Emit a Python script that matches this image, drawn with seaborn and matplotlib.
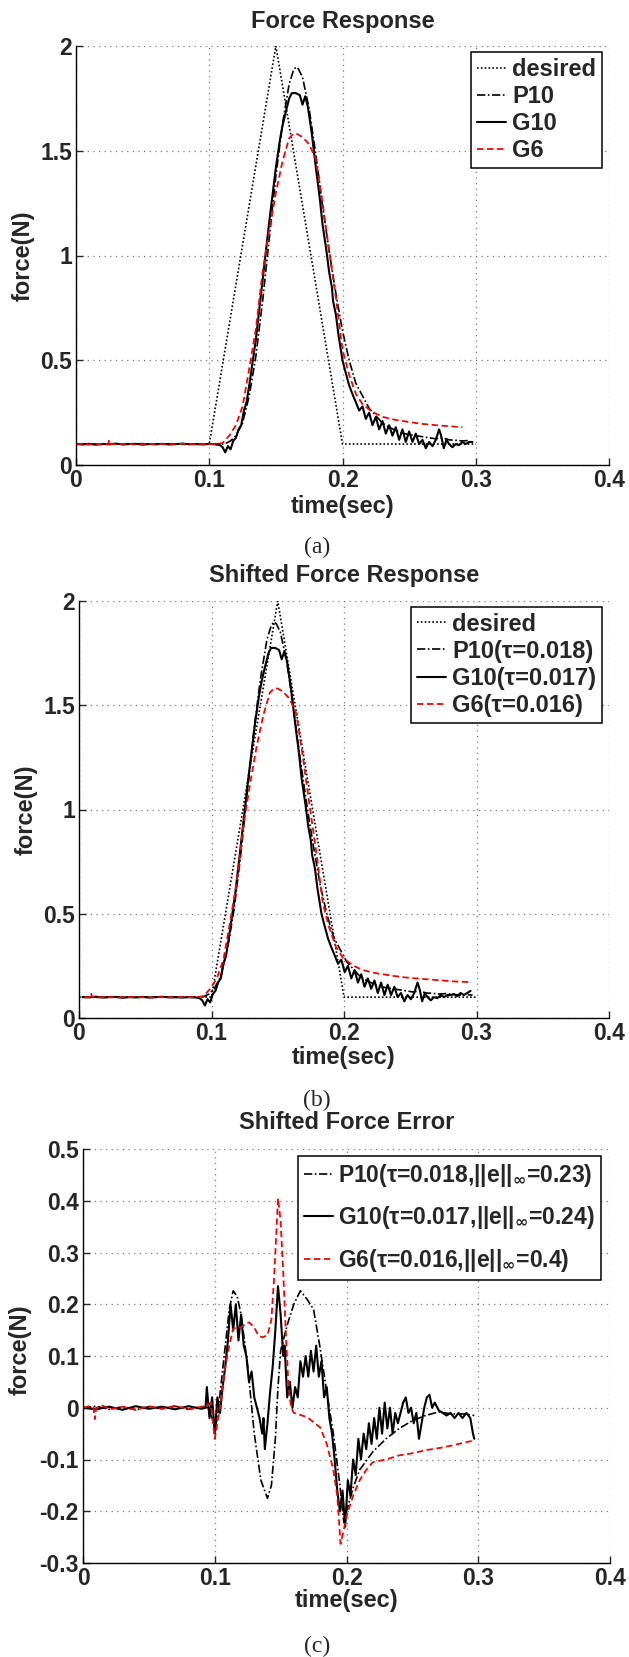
import numpy as np
import pandas as pd
import matplotlib
matplotlib.use("Agg")
import matplotlib.pyplot as plt
import seaborn as sns

# ---------------- data ----------------
desired_t = [0.0, 0.1, 0.15, 0.2, 0.3]
desired_v = [0.1, 0.1, 2.0, 0.1, 0.1]

p10_t = [0, 0.01, 0.02, 0.03, 0.04, 0.05, 0.06, 0.07, 0.08, 0.09, 0.1, 0.105, 0.11, 0.113,
         0.116, 0.12, 0.125, 0.13, 0.135, 0.14, 0.145, 0.15, 0.155, 0.16, 0.163, 0.165, 0.167,
         0.17, 0.175, 0.18, 0.185, 0.19, 0.195, 0.2, 0.205, 0.21, 0.215, 0.22, 0.225, 0.23,
         0.235, 0.24, 0.245, 0.25, 0.255, 0.26, 0.265, 0.27, 0.275, 0.28, 0.285, 0.29, 0.295,
         0.3, 0.305, 0.31, 0.315]
p10_v = [0.1, 0.098, 0.101, 0.099, 0.1, 0.102, 0.099, 0.1, 0.101, 0.099, 0.1, 0.098, 0.1, 0.105,
         0.115, 0.14, 0.2, 0.33, 0.52, 0.78, 1.08, 1.38, 1.63, 1.82, 1.88, 1.9, 1.89,
         1.85, 1.7, 1.48, 1.24, 1.02, 0.82, 0.64, 0.5, 0.39, 0.33, 0.27, 0.235, 0.2,
         0.18, 0.165, 0.152, 0.145, 0.14, 0.135, 0.13, 0.125, 0.13, 0.12, 0.118, 0.115, 0.117,
         0.113, 0.11, 0.112, 0.11]

g10_t = [0, 0.005, 0.01, 0.015, 0.02, 0.025, 0.03, 0.035, 0.04, 0.045, 0.05, 0.055, 0.06, 0.065,
         0.07, 0.075, 0.08, 0.085, 0.09, 0.095, 0.1, 0.104, 0.108, 0.11, 0.112, 0.114, 0.116,
         0.118, 0.12, 0.122, 0.124, 0.126, 0.128, 0.13, 0.135, 0.14, 0.145, 0.15, 0.153, 0.155,
         0.158, 0.16, 0.162, 0.165, 0.168, 0.17, 0.172, 0.174, 0.177, 0.18, 0.183, 0.185, 0.188,
         0.19, 0.192, 0.193, 0.195, 0.197, 0.2, 0.202, 0.205, 0.208, 0.21, 0.2125, 0.215, 0.2175,
         0.22, 0.2225, 0.225, 0.2275, 0.23, 0.2325, 0.235, 0.2375, 0.24, 0.2425, 0.245, 0.2475,
         0.25, 0.2525, 0.255, 0.2575, 0.26, 0.2625, 0.265, 0.2675, 0.27, 0.2725, 0.274, 0.276,
         0.278, 0.28, 0.2825, 0.285, 0.2875, 0.29, 0.2925, 0.295, 0.2975, 0.3, 0.3025, 0.305,
         0.3075, 0.31, 0.3125, 0.315]
g10_v = [0.1, 0.098, 0.101, 0.097, 0.1, 0.099, 0.102, 0.098, 0.1, 0.101, 0.097, 0.1, 0.099, 0.101,
         0.098, 0.1, 0.102, 0.099, 0.1, 0.098, 0.1, 0.1, 0.095, 0.085, 0.06, 0.09, 0.075,
         0.115, 0.13, 0.17, 0.19, 0.26, 0.3, 0.38, 0.6, 0.88, 1.16, 1.42, 1.55, 1.62,
         1.7, 1.75, 1.775, 1.775, 1.765, 1.72, 1.76, 1.71, 1.58, 1.42, 1.27, 1.15, 1.02,
         0.92, 0.85, 0.78, 0.72, 0.62, 0.5, 0.45, 0.38, 0.33, 0.3, 0.26, 0.28, 0.22,
         0.25, 0.19, 0.23, 0.17, 0.21, 0.15, 0.19, 0.14, 0.18, 0.12, 0.17, 0.11,
         0.16, 0.11, 0.15, 0.10, 0.12, 0.08, 0.11, 0.09, 0.12, 0.17, 0.14, 0.08,
         0.12, 0.10, 0.085, 0.10, 0.095, 0.11, 0.10, 0.11, 0.11, 0.115, 0.105, 0.12,
         0.11, 0.12, 0.13, 0.155]

g6_t = [0, 0.005, 0.01, 0.015, 0.02, 0.024, 0.025, 0.026, 0.03, 0.035, 0.04, 0.045, 0.05, 0.055,
        0.06, 0.065, 0.07, 0.075, 0.08, 0.085, 0.09, 0.095, 0.1, 0.105, 0.11, 0.115, 0.12,
        0.125, 0.13, 0.135, 0.14, 0.145, 0.15, 0.155, 0.16, 0.163, 0.166, 0.17, 0.175, 0.18,
        0.185, 0.19, 0.195, 0.2, 0.205, 0.21, 0.215, 0.22, 0.225, 0.23, 0.235, 0.24, 0.25,
        0.26, 0.27, 0.28, 0.29, 0.3, 0.305, 0.31, 0.315]
g6_v = [0.1, 0.1, 0.098, 0.101, 0.099, 0.1, 0.12, 0.1, 0.099, 0.101, 0.1, 0.098, 0.1, 0.101,
        0.099, 0.1, 0.098, 0.1, 0.101, 0.099, 0.1, 0.1, 0.1, 0.1, 0.105, 0.14, 0.19,
        0.28, 0.46, 0.65, 0.92, 1.12, 1.3, 1.45, 1.56, 1.58, 1.58, 1.565, 1.53, 1.46,
        1.25, 1.02, 0.8, 0.55, 0.43, 0.34, 0.29, 0.265, 0.245, 0.23, 0.222, 0.215, 0.205,
        0.196, 0.19, 0.185, 0.18, 0.175, 0.174, 0.172, 0.17]

tau_p10, tau_g10, tau_g6 = 0.018, 0.017, 0.016

# shifted force error (panel c)
ep10_t = [0, 0.01, 0.02, 0.03, 0.04, 0.05, 0.06, 0.07, 0.08, 0.09, 0.095, 0.098, 0.1, 0.102,
          0.105, 0.108, 0.111, 0.114, 0.117, 0.12, 0.125, 0.13, 0.135, 0.14, 0.143, 0.146,
          0.148, 0.15, 0.155, 0.16, 0.165, 0.17, 0.175, 0.18, 0.185, 0.19, 0.195, 0.198, 0.2,
          0.205, 0.21, 0.22, 0.23, 0.24, 0.25, 0.26, 0.27, 0.28, 0.29, 0.297]
ep10_v = [0.0, 0.003, -0.003, 0.002, -0.004, 0.002, -0.002, 0.003, -0.003, 0.002, 0.0, -0.02, -0.04, -0.02,
          0.05, 0.12, 0.19, 0.226, 0.215, 0.18, 0.08, -0.05, -0.14, -0.175, -0.15, -0.06,
          0.04, 0.11, 0.16, 0.2, 0.226, 0.21, 0.19, 0.115, 0.03, -0.05, -0.15, -0.222, -0.2,
          -0.155, -0.12, -0.085, -0.06, -0.04, -0.025, -0.015, -0.008, -0.012, -0.012, -0.015]

eg10_t = [0, 0.01, 0.02, 0.03, 0.04, 0.05, 0.06, 0.07, 0.08, 0.09, 0.093, 0.094, 0.096, 0.098,
          0.1, 0.102, 0.104, 0.106, 0.108, 0.11, 0.112, 0.114, 0.116, 0.118, 0.12, 0.122,
          0.124, 0.126, 0.128, 0.13, 0.132, 0.134, 0.136, 0.137, 0.138, 0.14, 0.142, 0.144,
          0.146, 0.148, 0.15, 0.152, 0.153, 0.155, 0.157, 0.159, 0.161, 0.163, 0.165, 0.167,
          0.169, 0.171, 0.173, 0.175, 0.177, 0.179, 0.181, 0.183, 0.185, 0.187, 0.189, 0.191,
          0.193, 0.195, 0.197, 0.199, 0.201, 0.203, 0.205, 0.207, 0.209, 0.211, 0.213, 0.215,
          0.217, 0.219, 0.221, 0.223, 0.225, 0.227, 0.229, 0.231, 0.233, 0.235, 0.237, 0.239,
          0.241, 0.243, 0.245, 0.247, 0.249, 0.251, 0.253, 0.255, 0.257, 0.259, 0.261, 0.263,
          0.265, 0.267, 0.27, 0.273, 0.276, 0.279, 0.282, 0.285, 0.288, 0.291, 0.294, 0.296,
          0.297]
eg10_v = [0.0, -0.003, 0.002, -0.004, 0.003, -0.002, 0.002, -0.003, 0.003, -0.002, 0.0, 0.04, -0.02, 0.02,
          -0.05, 0.02, -0.01, 0.04, 0.08, 0.13, 0.2, 0.15, 0.2, 0.13, 0.18, 0.12,
          0.1, 0.05, 0.07, 0.02, 0.0, -0.02, -0.05, -0.02, -0.08, -0.03, 0.03, 0.08,
          0.15, 0.235, 0.18, 0.1, 0.12, 0.02, 0.05, 0.0, 0.04, 0.02, 0.09, 0.06,
          0.1, 0.06, 0.11, 0.07, 0.12, 0.06, 0.09, 0.02, 0.04, -0.02, -0.05, -0.1,
          -0.16, -0.2, -0.16, -0.23, -0.14, -0.17, -0.1, -0.13, -0.06, -0.1, -0.05, -0.08,
          -0.03, -0.07, -0.02, -0.06, 0.0, -0.05, 0.01, -0.04, 0.0, -0.05, -0.01, -0.03,
          -0.01, 0.01, 0.02, -0.01, 0.0, -0.03, -0.01, -0.06, -0.03, 0.0, 0.02, 0.025,
          0.0, 0.01, -0.005, -0.01, -0.015, -0.01, -0.02, -0.01, -0.02, -0.01, -0.02, -0.05,
          -0.06]

eg6_t = [0, 0.005, 0.008, 0.009, 0.01, 0.015, 0.02, 0.03, 0.04, 0.05, 0.06, 0.07, 0.08, 0.09,
         0.095, 0.097, 0.1, 0.102, 0.105, 0.108, 0.111, 0.114, 0.117, 0.12, 0.123, 0.126, 0.13,
         0.133, 0.136, 0.14, 0.143, 0.145, 0.147, 0.148, 0.15, 0.152, 0.154, 0.156, 0.158, 0.16,
         0.165, 0.17, 0.175, 0.18, 0.185, 0.19, 0.193, 0.1955, 0.198, 0.2, 0.205, 0.21, 0.215,
         0.22, 0.23, 0.24, 0.25, 0.26, 0.27, 0.28, 0.29, 0.297]
eg6_v = [0.0, 0.003, 0.0, -0.022, 0.0, 0.004, -0.003, 0.002, -0.004, 0.003, -0.002, 0.004, -0.003, 0.002,
         0.005, 0.01, -0.06, -0.03, 0.02, 0.08, 0.12, 0.153, 0.155, 0.155, 0.162, 0.165, 0.155,
         0.14, 0.136, 0.14, 0.17, 0.25, 0.35, 0.405, 0.36, 0.26, 0.14, 0.04, 0.0, -0.01,
         -0.014, -0.018, -0.028, -0.038, -0.07, -0.12, -0.17, -0.263, -0.235, -0.21, -0.17, -0.14, -0.12,
         -0.105, -0.1, -0.092, -0.088, -0.082, -0.078, -0.073, -0.067, -0.063]

x_ticks = [0, 0.1, 0.2, 0.3, 0.4]
x_tick_labels = ['0', '0.1', '0.2', '0.3', '0.4']
f_ticks = [0, 0.5, 1, 1.5, 2]
f_tick_labels = ['0', '0.5', '1', '1.5', '2']
e_ticks = [-0.3, -0.2, -0.1, 0, 0.1, 0.2, 0.3, 0.4, 0.5]
e_tick_labels = ['-0.3', '-0.2', '-0.1', '0', '0.1', '0.2', '0.3', '0.4', '0.5']

# ---------------- style ----------------
sns.set_style("white")
plt.rcParams['font.family'] = ['Liberation Sans', 'DejaVu Sans']
plt.rcParams['font.weight'] = 'bold'
plt.rcParams['mathtext.fontset'] = 'custom'
plt.rcParams['mathtext.rm'] = 'DejaVu Sans:bold'
plt.rcParams['mathtext.it'] = 'DejaVu Sans:bold'
plt.rcParams['mathtext.bf'] = 'DejaVu Sans:bold'
plt.rcParams['mathtext.default'] = 'rm'

W, H = 629, 1657
fig = plt.figure(figsize=(W / 100, H / 100), dpi=100)


def add_ax(l, r, t, b):
    return fig.add_axes([l / W, 1 - b / H, (r - l) / W, (b - t) / H])


axa = add_ax(76, 609, 46, 465)
axb = add_ax(79, 609, 601, 1018)
axc = add_ax(83, 610, 1149, 1563)

STY = {
    'desired': dict(color='black', linestyle=(0, (1, 1.3)), linewidth=1.2),
    'P10': dict(color='black', linestyle=(0, (5, 1.5, 1, 1.5)), linewidth=1.2),
    'G10': dict(color='black', linestyle='-', linewidth=1.5),
    'G6': dict(color='#ff0000', linestyle=(0, (3.5, 2)), linewidth=1.3),
}


def draw(ax, t, v, key, label, shift=0.0, tmax=0.2975):
    df = pd.DataFrame({'t': np.asarray(t, float) - shift, 'v': np.asarray(v, float)})
    df = df[(df.t >= -0.0005) & (df.t <= tmax)]
    sns.lineplot(data=df, x='t', y='v', ax=ax, estimator=None, sort=False,
                 label=label, **STY[key])


def finish(ax, yticks, ylabels, ylim, title, title_y, xl_y, yl_x, yl_y):
    ax.set_xlim(0, 0.4)
    ax.set_ylim(*ylim)
    ax.set_xticks(x_ticks)
    ax.set_xticklabels(x_tick_labels)
    ax.set_yticks(yticks)
    ax.set_yticklabels(ylabels)
    ax.tick_params(direction='in', length=5, width=1, labelsize=16.5, pad=3,
                   top=False, right=False, bottom=True, left=True)
    for lab in ax.get_xticklabels() + ax.get_yticklabels():
        lab.set_fontweight('bold')
    ax.grid(True, color='#7a7a7a', linestyle=(0, (1, 3.5)), linewidth=0.9)
    ax.set_axisbelow(True)
    for s in ['top', 'right']:
        ax.spines[s].set_visible(False)
    for s in ['left', 'bottom']:
        ax.spines[s].set_color('black')
        ax.spines[s].set_linewidth(1.0)
    ax.set_title(title, fontsize=17, fontweight='bold', y=title_y, pad=0)
    ax.set_xlabel('time(sec)', fontsize=17, fontweight='bold')
    ax.set_ylabel('force(N)', fontsize=17, fontweight='bold')
    ax.xaxis.set_label_coords(0.5, xl_y)
    ax.yaxis.set_label_coords(yl_x, yl_y)


def legend(ax, anchor, spacing, size=17):
    leg = ax.legend(loc='upper right', bbox_to_anchor=anchor, borderaxespad=0,
                    prop={'family': 'Liberation Sans', 'weight': 'bold', 'size': size},
                    handlelength=1.25, handletextpad=0.25, borderpad=0.25,
                    labelspacing=spacing, fancybox=False, framealpha=1,
                    edgecolor='black')
    leg.get_frame().set_linewidth(1.1)


# panel (a)
draw(axa, desired_t, desired_v, 'desired', 'desired', tmax=0.301)
draw(axa, p10_t, p10_v, 'P10', 'P10')
draw(axa, g10_t, g10_v, 'G10', 'G10')
draw(axa, g6_t, g6_v, 'G6', 'G6')
finish(axa, f_ticks, f_tick_labels, (0, 2), 'Force Response', 1.043, -0.072, -0.078, 0.5)
legend(axa, (0.987, 0.986), 0.17)

# panel (b)
draw(axb, desired_t, desired_v, 'desired', 'desired', tmax=0.301)
draw(axb, p10_t, p10_v, 'P10', 'P10(τ=0.018)', shift=tau_p10)
draw(axb, g10_t, g10_v, 'G10', 'G10(τ=0.017)', shift=tau_g10)
draw(axb, g6_t, g6_v, 'G6', 'G6(τ=0.016)', shift=tau_g6)
finish(axb, f_ticks, f_tick_labels, (0, 2), 'Shifted Force Response', 1.0456, -0.068, -0.078, 0.5)
legend(axb, (0.987, 0.986), 0.17)

# panel (c)
draw(axc, ep10_t, ep10_v, 'P10', 'P10(τ=0.018,||e||$_{∞}$=0.23)')
draw(axc, eg10_t, eg10_v, 'G10', 'G10(τ=0.017,||e||$_{∞}$=0.24)')
draw(axc, eg6_t, eg6_v, 'G6', 'G6(τ=0.016,||e||$_{∞}$=0.4)')
finish(axc, e_ticks, e_tick_labels, (-0.3, 0.5), 'Shifted Force Error', 1.048, -0.062, -0.098, 0.514)
legend(axc, (0.983, 0.983), 0.68, size=16.5)

for txt, y in [('(a)', 547), ('(b)', 1100), ('(c)', 1646)]:
    fig.text(317 / W, 1 - y / H, txt, ha='center', va='center',
             family='Liberation Serif', fontsize=17, fontweight='normal')

fig.savefig('out.png', dpi=100)
